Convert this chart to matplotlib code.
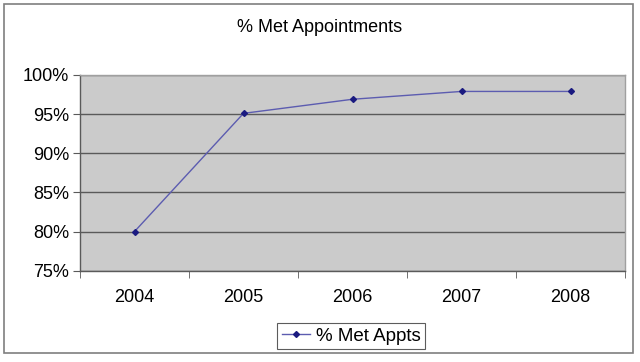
import matplotlib
matplotlib.use("Agg")
import matplotlib.pyplot as plt
from matplotlib.patches import Rectangle
from matplotlib.ticker import FuncFormatter

years = ["2004", "2005", "2006", "2007", "2008"]
met_appts = [80.0, 95.1, 96.9, 97.9, 97.9]
series_name = "% Met Appts"
title = "% Met Appointments"

plt.rcParams['font.family'] = ['Liberation Sans', 'DejaVu Sans']

fig = plt.figure(figsize=(6.4, 3.62), dpi=100)
fig.patches.append(Rectangle((4/640, 1-353/362), 629/640, 349/362, transform=fig.transFigure,
                             fill=False, edgecolor='#7f7f7f', linewidth=1.2))
ax = fig.add_axes([80/640, 1-270.7/362, 545/640, 195.7/362])
ax.set_facecolor('#cbcbcb')
x = list(range(len(years)))
ax.plot(x, met_appts, color='#5c5cb0', linewidth=1.0, marker='D', markersize=3,
        markerfacecolor='#1a1a80', markeredgecolor='#1a1a80', label=series_name)
ax.set_xlim(-0.5, len(years) - 0.5)
ax.set_ylim(75, 100)
ax.set_yticks([75, 80, 85, 90, 95, 100])
ax.yaxis.set_major_formatter(FuncFormatter(lambda v, p: f"{int(v)}%"))
ax.grid(axis='y', color='#5a5a5a', linewidth=1.0)
ax.set_axisbelow(True)
ax.set_xticks(x)
ax.set_xticklabels(years)
ax.set_xticks([i - 0.5 for i in range(len(years) + 1)], minor=True)
ax.tick_params(axis='x', which='major', length=0, pad=13, labelsize=13)
ax.tick_params(axis='x', which='minor', length=5, color='#5a5a5a', direction='out')
ax.tick_params(axis='y', length=5, color='#5a5a5a', labelsize=13, pad=3)
for s in ['top', 'right']:
    ax.spines[s].set_color('#a0a0a0')
    ax.spines[s].set_linewidth(1.0)
for s in ['left', 'bottom']:
    ax.spines[s].set_color('#5a5a5a')
    ax.spines[s].set_linewidth(1.0)
fig.text(0.5, 1-27/362, title, ha='center', va='center', fontsize=13)
leg = fig.legend(loc='center', bbox_to_anchor=(351/640, 1-336/362), fontsize=13.5,
                 frameon=True, fancybox=False, edgecolor='#333333', borderpad=0.25,
                 handlelength=1.5, handletextpad=0.3, borderaxespad=0)
leg.get_frame().set_linewidth(0.8)
fig.savefig("out.png", dpi=100)
